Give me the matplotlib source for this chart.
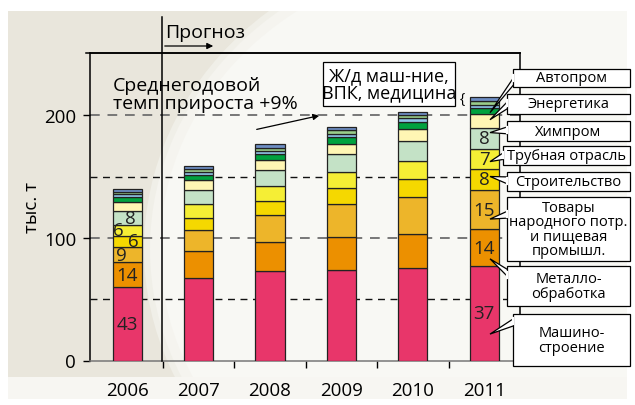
import matplotlib
matplotlib.use('Agg')
import matplotlib.pyplot as plt
from matplotlib.patches import Rectangle, Ellipse, Polygon, FancyArrowPatch
from matplotlib.lines import Line2D
import numpy as np

plt.rcParams['font.family'] = ['Open Sans', 'DejaVu Sans']

# ---------------- data ----------------
years = ['2006', '2007', '2008', '2009', '2010', '2011']
categories = ['Машино-\nстроение', 'Металло-\nобработка',
              'Товары\nнародного потр.\nи пищевая\nпромышл.',
              'Строительство', 'Трубная отрасль', 'Химпром', 'Энергетика',
              'Автопром', 'Ж/д маш-ние', 'ВПК', 'медицина']
mashino = [60, 67, 73, 74, 75.5, 77]
metallo = [20, 22, 24, 27, 28, 30]
tovary = [13, 17.5, 22, 27, 30, 32.5]
stroit = [8.5, 10, 11.5, 12.7, 15, 17]
trub = [9.5, 11, 12.3, 13.4, 14.7, 16.3]
khim = [11.2, 12, 13.1, 14.7, 16, 17.2]
energ = [7.4, 7.6, 7.8, 8.2, 10, 10.9]
avto = [3.8, 4.6, 5.2, 5.4, 5.5, 5.4]
zhd = [2.5, 2.1, 2.5, 2.8, 3.0, 2.1]
vpk = [2.0, 2.2, 2.2, 3.3, 3.0, 3.8]
med = [2.0, 3.0, 3.5, 2.1, 2.5, 3.2]
series = [mashino, metallo, tovary, stroit, trub, khim, energ, avto, zhd, vpk, med]

share_2006 = [43, 14, 9, 6, 6, 8]
share_2011 = [37, 14, 15, 8, 7, 8]

yticks = [0, 100, 200]
ylabel = 'тыс. т'

# ---------------- style ----------------
colors = ['#E8366A', '#EC9000', '#EDB52A', '#F5D800', '#F5EE35', '#C4E2C6',
          '#FFF6B4', '#00A23F', '#92C6EA', '#9ACD8A', '#6E8EC4']

W, H = 635, 406
fig = plt.figure(figsize=(W / 100, H / 100), dpi=100)
fig.patch.set_facecolor('white')


def fx(x):
    return x / W


def fy(y):
    return 1 - y / H


# background
bg = Rectangle((fx(8), fy(400)), fx(627) - fx(8), fy(12) - fy(400),
               transform=fig.transFigure, facecolor='#E9E6DC',
               edgecolor='none', zorder=-10)
fig.patches.append(bg)
for d, c in [(6, '#F0EFE8'), (0, '#F5F4EF'), (-10, '#F8F8F4')]:
    el = Ellipse((fx(480), fy(250)), 2 * (330 + d) / W, 2 * (300 + d) / H,
                 transform=fig.transFigure, facecolor=c, edgecolor='none', zorder=-9)
    el.set_clip_path(bg)
    fig.patches.append(el)
# lighter band at the very bottom
fig.patches.append(Rectangle((fx(8), fy(400)), fx(627) - fx(8), fy(378) - fy(400),
                             transform=fig.transFigure, facecolor='#F7F6F2',
                             edgecolor='none', zorder=-8))

ax = fig.add_axes([fx(90), fy(361.5), fx(520) - fx(90), fy(54) - fy(361.5)])
ax.set_facecolor('none')
ax.set_zorder(2)

x = np.arange(len(years))
bottom = np.zeros(len(years))
seg_bottoms = []
for vals, col in zip(series, colors):
    seg_bottoms.append(bottom.copy())
    ax.bar(x, vals, width=0.41, bottom=bottom, color=col,
           edgecolor='#222222', linewidth=0.9, zorder=3)
    bottom = bottom + np.array(vals)

ax.set_xlim(-0.52, 5.5)
ax.set_ylim(0, 251)

for yv in [50, 100, 150, 200]:
    c = '#777777' if yv in (100, 200) else '#111111'
    lw = 1.4 if yv in (100, 200) else 1.0
    ax.axhline(yv, color=c, lw=lw, ls=(0, (5, 4)), zorder=1)

ax.set_yticks(yticks)
ax.set_yticklabels([str(v) for v in yticks], fontsize=13.5)
ax.set_xticks(x)
ax.set_xticklabels(years, fontsize=13.5)
ax.set_xticks(x[:-1] + 0.5, minor=True)
ax.tick_params(axis='x', which='major', length=0, pad=15)
ax.tick_params(axis='x', which='minor', length=5, width=1, direction='out')
ax.tick_params(axis='y', length=5, width=1, direction='out', pad=5)
for s in ['left', 'top', 'right', 'bottom']:
    ax.spines[s].set_linewidth(1.1)
ax.spines['bottom'].set_color('#777777')
ax.set_ylabel(ylabel, fontsize=13.5, labelpad=2)

# share labels
off06 = [0, 0, -0.08, 0.09, -0.13, 0.05]
for k, (s, o) in enumerate(zip(share_2006, off06)):
    yc = seg_bottoms[k][0] + series[k][0] / 2
    ax.text(x[0] + o, yc, str(s), ha='center', va='center', fontsize=13.5,
            color='#222222', zorder=5)
for k, s in enumerate(share_2011):
    yc = seg_bottoms[k][5] + series[k][5] / 2
    ax.text(x[5], yc, str(s), ha='center', va='center', fontsize=13.5,
            color='#222222', zorder=5)

# decorative lines in figure coords
fig.add_artist(Line2D([fx(86), fx(520)], [fy(54), fy(54)], color='black',
                      lw=1.1, transform=fig.transFigure, zorder=3))
fig.add_artist(Line2D([fx(161.5), fx(161.5)], [fy(18), fy(362)], color='black',
                      lw=1.1, transform=fig.transFigure, zorder=3))
fig.text(fx(165), fy(33), 'Прогноз', fontsize=14, ha='left', va='center')
fig.add_artist(FancyArrowPatch((fx(162), fy(47)), (fx(216), fy(47)),
                               transform=fig.transFigure, arrowstyle='-|>',
                               mutation_scale=9, color='black', lw=0.9))

fig.text(fx(113), fy(95), 'Среднегодовой\nтемп прироста +9%', fontsize=14,
         ha='left', va='center', linespacing=0.95, zorder=4)
fig.add_artist(FancyArrowPatch((fx(254), fy(131)), (fx(322), fy(116)),
                               transform=fig.transFigure, arrowstyle='-|>',
                               mutation_scale=9, color='black', lw=0.9))

# Ж/д box
fig.patches.append(Rectangle((fx(323), fy(107)), fx(455) - fx(323), fy(63) - fy(107),
                             transform=fig.transFigure, facecolor='white',
                             edgecolor='black', lw=0.9, zorder=4))
fig.text(fx(389), fy(85), 'Ж/д маш-ние,\nВПК, медицина', fontsize=13,
         ha='center', va='center', linespacing=0.95, zorder=5)
fig.text(fx(462), fy(100), '{', fontsize=10, ha='center', va='center', zorder=5)

# right-side labels with callouts
boxes = [  # left, top, bottom, base center y, tip fraction in segment
    (513, 315, 367, 322, 0.28),
    (507, 267, 307, 276, 0.2),
    (507, 198, 262, 215, 0.26),
    (507, 173, 192, 182, 0.63),
    (503, 147, 166, 156, 0.36),
    (507, 122, 142, 131, 0.77),
    (507, 95, 115, 104, 0.6),
    (513, 70, 88, 79, 0.26),
]
inv = fig.transFigure.inverted()
for k, (left, top, bot, bc, frac) in enumerate(boxes):
    ty = seg_bottoms[k][5] + series[k][5] * frac
    tip = inv.transform(ax.transData.transform((x[5] + 0.08, ty)))
    poly = Polygon([(fx(left + 3), fy(bc - 4)), tuple(tip), (fx(left + 3), fy(bc + 4))],
                   closed=True, transform=fig.transFigure, facecolor='white',
                   edgecolor='black', lw=0.9, zorder=6)
    fig.patches.append(poly)
    fig.patches.append(Rectangle((fx(left), fy(bot)), fx(630) - fx(left), fy(top) - fy(bot),
                                 transform=fig.transFigure, facecolor='white',
                                 edgecolor='black', lw=0.9, zorder=7))
    fig.add_artist(Line2D([fx(left), fx(left)], [fy(bc - 3.3), fy(bc + 3.3)], color='white',
                          lw=1.6, transform=fig.transFigure, zorder=8))
    fig.text(fx((left + 630) / 2), fy((top + bot) / 2), categories[k], fontsize=10.5,
             ha='center', va='center', linespacing=0.95, zorder=9)

fig.savefig('out.png', dpi=100)
